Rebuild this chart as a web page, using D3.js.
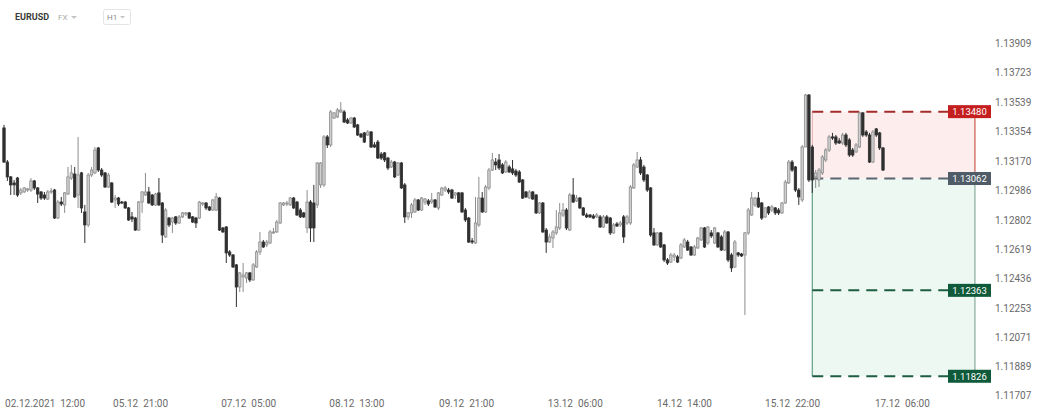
<!DOCTYPE html>
<html><head><meta charset="utf-8">
<script src="https://cdn.jsdelivr.net/npm/d3@7"></script>
<style>
html,body{margin:0;padding:0;background:#fff;}
svg{display:block;font-family:Roboto,"Noto Sans",sans-serif;}
</style></head><body>
<svg id="chart" width="1042" height="417"></svg>
<script>
const symbol = "EURUSD", market = "FX", timeframe = "H1";

const openP = [1.13378,1.13165,1.13072,1.13034,1.13065,1.12972,1.12978,1.12990,1.12990,1.13047,1.13003,1.12978,1.12959,1.12934,1.12978,1.12990,1.12815,1.12915,1.12897,1.12965,1.13065,1.13090,1.12959,1.13097,1.12853,1.12772,1.13084,1.13097,1.13253,1.13115,1.13097,1.13009,1.13034,1.12928,1.12940,1.12915,1.12915,1.12878,1.12822,1.12815,1.12740,1.12915,1.12959,1.12978,1.12959,1.12897,1.12972,1.12909,1.12697,1.12815,1.12790,1.12822,1.12784,1.12822,1.12840,1.12847,1.12822,1.12815,1.12815,1.12903,1.12909,1.12884,1.12865,1.12865,1.12940,1.12753,1.12759,1.12603,1.12584,1.12522,1.12384,1.12447,1.12440,1.12472,1.12428,1.12509,1.12603,1.12665,1.12647,1.12659,1.12722,1.12728,1.12784,1.12897,1.12903,1.12897,1.12940,1.12915,1.12865,1.12847,1.12753,1.12915,1.12909,1.12897,1.13022,1.13022,1.13322,1.13272,1.13440,1.13447,1.13478,1.13478,1.13428,1.13409,1.13440,1.13397,1.13340,1.13347,1.13334,1.13353,1.13272,1.13290,1.13215,1.13222,1.13190,1.13134,1.13165,1.13084,1.13159,1.13022,1.12822,1.12847,1.12853,1.12928,1.12865,1.12915,1.12922,1.12915,1.12928,1.12878,1.12959,1.12990,1.12990,1.12990,1.12959,1.12972,1.12972,1.12865,1.12815,1.12672,1.12659,1.12772,1.12940,1.12853,1.13003,1.13115,1.13165,1.13178,1.13147,1.13103,1.13134,1.13122,1.13109,1.13103,1.13053,1.12978,1.12940,1.12978,1.12959,1.12847,1.12909,1.12740,1.12665,1.12690,1.12722,1.12753,1.12834,1.12865,1.12740,1.12959,1.12922,1.12940,1.12878,1.12834,1.12834,1.12828,1.12822,1.12822,1.12759,1.12822,1.12815,1.12722,1.12778,1.12772,1.12822,1.12784,1.12784,1.13003,1.13134,1.13178,1.13134,1.13084,1.13003,1.12722,1.12647,1.12722,1.12647,1.12553,1.12540,1.12572,1.12572,1.12565,1.12634,1.12665,1.12634,1.12584,1.12628,1.12678,1.12753,1.12659,1.12722,1.12659,1.12722,1.12697,1.12615,1.12728,1.12584,1.12509,1.12597,1.12590,1.12584,1.12722,1.12834,1.12897,1.12940,1.12909,1.12822,1.12884,1.12865,1.12878,1.12865,1.12847,1.12909,1.13034,1.13165,1.13134,1.12990,1.12928,1.13259,1.13584,1.13259,1.13072,1.13053,1.13097,1.13178,1.13240,1.13322,1.13322,1.13297,1.13284,1.13334,1.13303,1.13240,1.13228,1.13259,1.13472,1.13353,1.13334,1.13165,1.13372,1.13347,1.13253];

const highP = [1.13397,1.13178,1.13078,1.13053,1.13072,1.13003,1.13009,1.13003,1.13065,1.13053,1.13009,1.12984,1.12978,1.12990,1.13003,1.12997,1.12928,1.12947,1.12978,1.13134,1.13147,1.13134,1.13322,1.13103,1.12897,1.13097,1.13134,1.13259,1.13259,1.13128,1.13103,1.13097,1.13040,1.12959,1.12947,1.12922,1.12922,1.12884,1.12853,1.12822,1.12922,1.12984,1.13097,1.13009,1.12965,1.12972,1.13065,1.12915,1.12878,1.12822,1.12822,1.12828,1.12834,1.12853,1.12853,1.12853,1.12828,1.12822,1.12922,1.12915,1.12915,1.12890,1.12934,1.12972,1.12947,1.12759,1.12765,1.12615,1.12590,1.12528,1.12478,1.12534,1.12478,1.12478,1.12534,1.12615,1.12728,1.12678,1.12678,1.12740,1.12753,1.12803,1.12915,1.12915,1.12922,1.12947,1.12947,1.12922,1.12878,1.12853,1.12990,1.12928,1.13022,1.13165,1.13165,1.13334,1.13334,1.13490,1.13478,1.13503,1.13540,1.13490,1.13440,1.13447,1.13447,1.13403,1.13347,1.13353,1.13365,1.13359,1.13290,1.13303,1.13228,1.13228,1.13197,1.13178,1.13172,1.13165,1.13165,1.13034,1.12853,1.12909,1.12940,1.12934,1.12947,1.12940,1.12934,1.12972,1.12934,1.12978,1.13009,1.13015,1.13003,1.12997,1.12978,1.12978,1.12978,1.12878,1.12822,1.12690,1.12947,1.13072,1.12978,1.13022,1.13128,1.13222,1.13190,1.13215,1.13159,1.13178,1.13147,1.13178,1.13122,1.13115,1.13059,1.12984,1.12990,1.12984,1.12965,1.12915,1.12915,1.12753,1.12716,1.12740,1.12865,1.12909,1.12909,1.12878,1.12972,1.13065,1.12959,1.12947,1.12884,1.12847,1.12840,1.12840,1.12847,1.12834,1.12834,1.12834,1.12822,1.12784,1.12790,1.12797,1.12834,1.12834,1.13022,1.13159,1.13228,1.13197,1.13147,1.13090,1.13009,1.12753,1.12728,1.12728,1.12653,1.12565,1.12597,1.12597,1.12584,1.12659,1.12690,1.12678,1.12640,1.12647,1.12697,1.12759,1.12759,1.12765,1.12740,1.12759,1.12728,1.12709,1.12740,1.12734,1.12597,1.12678,1.12603,1.12597,1.12728,1.12878,1.12978,1.12947,1.12978,1.12915,1.12884,1.12890,1.12897,1.12884,1.12878,1.12915,1.13053,1.13178,1.13178,1.13140,1.13003,1.13272,1.13590,1.13590,1.13272,1.13115,1.13128,1.13209,1.13253,1.13334,1.13347,1.13334,1.13315,1.13347,1.13347,1.13315,1.13253,1.13284,1.13478,1.13478,1.13365,1.13347,1.13365,1.13378,1.13353,1.13259];

const lowP = [1.13159,1.13047,1.12959,1.12959,1.12947,1.12959,1.12972,1.12978,1.12978,1.12990,1.12909,1.12928,1.12928,1.12928,1.12965,1.12809,1.12809,1.12890,1.12847,1.12959,1.13053,1.12940,1.12878,1.12847,1.12659,1.12759,1.13072,1.13090,1.13103,1.13072,1.13003,1.13003,1.12909,1.12878,1.12890,1.12903,1.12872,1.12797,1.12790,1.12734,1.12734,1.12847,1.12953,1.12903,1.12890,1.12890,1.12890,1.12659,1.12690,1.12759,1.12722,1.12772,1.12778,1.12815,1.12828,1.12809,1.12784,1.12753,1.12809,1.12890,1.12865,1.12859,1.12859,1.12859,1.12734,1.12722,1.12534,1.12572,1.12503,1.12259,1.12353,1.12353,1.12409,1.12415,1.12422,1.12503,1.12584,1.12628,1.12634,1.12653,1.12716,1.12722,1.12778,1.12890,1.12890,1.12890,1.12872,1.12828,1.12815,1.12815,1.12722,1.12665,1.12665,1.12878,1.13003,1.13009,1.13253,1.13259,1.13434,1.13440,1.13472,1.13409,1.13403,1.13403,1.13378,1.13328,1.13315,1.13284,1.13328,1.13253,1.13253,1.13184,1.13178,1.13165,1.13115,1.13128,1.13065,1.13078,1.12997,1.12784,1.12803,1.12815,1.12847,1.12859,1.12859,1.12897,1.12890,1.12903,1.12878,1.12865,1.12953,1.12978,1.12965,1.12934,1.12934,1.12909,1.12847,1.12790,1.12659,1.12653,1.12653,1.12759,1.12847,1.12847,1.12990,1.13109,1.13115,1.13115,1.13090,1.13097,1.13097,1.13084,1.13072,1.13034,1.12934,1.12940,1.12934,1.12928,1.12840,1.12840,1.12722,1.12597,1.12659,1.12628,1.12709,1.12740,1.12822,1.12740,1.12734,1.12909,1.12915,1.12872,1.12828,1.12815,1.12815,1.12809,1.12815,1.12753,1.12753,1.12778,1.12709,1.12716,1.12759,1.12759,1.12659,1.12772,1.12772,1.12997,1.13128,1.13084,1.13040,1.12978,1.12697,1.12640,1.12640,1.12628,1.12540,1.12522,1.12534,1.12547,1.12534,1.12559,1.12628,1.12609,1.12578,1.12578,1.12622,1.12672,1.12628,1.12647,1.12690,1.12653,1.12628,1.12609,1.12609,1.12540,1.12478,1.12503,1.12572,1.12572,1.12209,1.12709,1.12828,1.12884,1.12878,1.12803,1.12815,1.12834,1.12853,1.12834,1.12834,1.12840,1.12903,1.13028,1.13103,1.12978,1.12897,1.12915,1.13259,1.13040,1.12972,1.13003,1.13009,1.13084,1.13165,1.13228,1.13303,1.13272,1.13278,1.13272,1.13259,1.13197,1.13197,1.13222,1.13253,1.13322,1.13322,1.13159,1.13159,1.13322,1.13240,1.13109];

const closeP = [1.13165,1.13072,1.13022,1.13022,1.12959,1.12990,1.13003,1.12997,1.13047,1.13003,1.12965,1.12940,1.12940,1.12978,1.12984,1.12815,1.12915,1.12903,1.12972,1.13072,1.13097,1.12947,1.13084,1.12878,1.12772,1.13084,1.13115,1.13240,1.13115,1.13084,1.13009,1.13084,1.12915,1.12940,1.12903,1.12909,1.12878,1.12803,1.12809,1.12740,1.12915,1.12978,1.12978,1.12909,1.12897,1.12965,1.12897,1.12709,1.12865,1.12772,1.12815,1.12784,1.12822,1.12847,1.12847,1.12815,1.12790,1.12784,1.12915,1.12909,1.12878,1.12865,1.12928,1.12947,1.12740,1.12728,1.12597,1.12584,1.12509,1.12384,1.12472,1.12459,1.12472,1.12428,1.12522,1.12603,1.12665,1.12634,1.12665,1.12728,1.12728,1.12790,1.12909,1.12909,1.12909,1.12940,1.12878,1.12834,1.12822,1.12822,1.12915,1.12753,1.12753,1.13159,1.13159,1.13322,1.13272,1.13478,1.13472,1.13490,1.13490,1.13415,1.13409,1.13440,1.13384,1.13334,1.13322,1.13290,1.13353,1.13259,1.13259,1.13190,1.13190,1.13178,1.13128,1.13165,1.13072,1.13159,1.13003,1.12822,1.12847,1.12897,1.12928,1.12865,1.12940,1.12934,1.12903,1.12928,1.12884,1.12972,1.13003,1.13003,1.12978,1.12940,1.12972,1.12915,1.12853,1.12803,1.12665,1.12665,1.12784,1.12940,1.12853,1.13009,1.13115,1.13178,1.13147,1.13128,1.13097,1.13165,1.13103,1.13097,1.13084,1.13040,1.12940,1.12947,1.12978,1.12934,1.12847,1.12909,1.12728,1.12665,1.12697,1.12728,1.12759,1.12847,1.12865,1.12753,1.12959,1.12915,1.12940,1.12878,1.12834,1.12822,1.12822,1.12815,1.12834,1.12759,1.12822,1.12784,1.12722,1.12772,1.12765,1.12784,1.12697,1.12822,1.13009,1.13147,1.13178,1.13097,1.13053,1.12990,1.12709,1.12647,1.12722,1.12634,1.12553,1.12534,1.12584,1.12584,1.12540,1.12647,1.12678,1.12615,1.12584,1.12634,1.12690,1.12753,1.12634,1.12759,1.12703,1.12753,1.12634,1.12615,1.12728,1.12553,1.12503,1.12665,1.12584,1.12578,1.12722,1.12865,1.12940,1.12940,1.12884,1.12815,1.12878,1.12847,1.12884,1.12847,1.12847,1.12909,1.13040,1.13165,1.13115,1.12990,1.12947,1.13259,1.13584,1.13053,1.13053,1.13097,1.13115,1.13197,1.13240,1.13322,1.13315,1.13284,1.13284,1.13334,1.13272,1.13209,1.13209,1.13272,1.13472,1.13334,1.13334,1.13165,1.13353,1.13334,1.13253,1.13115];

const yTickValues = [1.13909,1.13723,1.13539,1.13354,1.13170,1.12986,1.12802,1.12619,1.12436,1.12253,1.12071,1.11889,1.11707];
const xTickIndex = [8.1,40.4,72.5,104.6,137.2,169.5,201.9,234.0,266.6];
const xTickLabels = ["02.12.2021  12:00","05.12  21:00","07.12  05:00","08.12  13:00","09.12  21:00","13.12  06:00","14.12  14:00","15.12  22:00","17.12  06:00"];

const positionStart = 240, positionEnd = 288.3;
const stopLoss = 1.13480, entryPrice = 1.13062, target1 = 1.12363, target2 = 1.11826;

const svg = d3.select("#chart");
const n = openP.length;
const x = d3.scaleLinear().domain([0, n - 1]).range([4, 883]);
const y = d3.scaleLinear().domain([1.11707, 1.13909]).range([395.3, 43]);

// header
const hdr = svg.append("g");
hdr.append("text").attr("x", 15).attr("y", 20).attr("font-size", 9).attr("font-weight", 700).attr("fill", "#3a3a3a").text(symbol);
hdr.append("text").attr("x", 58).attr("y", 20).attr("font-size", 8).attr("fill", "#aaa").text(market);
hdr.append("path").attr("d", "M71,16 L77,16 L74,19 Z").attr("fill", "#c4c4c4");
hdr.append("rect").attr("x", 103.5).attr("y", 9.5).attr("width", 27).attr("height", 15).attr("rx", 2).attr("fill", "#fff").attr("stroke", "#e4e4e4");
hdr.append("text").attr("x", 107).attr("y", 20).attr("font-size", 8).attr("fill", "#888").text(timeframe);
hdr.append("path").attr("d", "M120,16 L125,16 L122.5,18.5 Z").attr("fill", "#c4c4c4");

// position tool zones
const x0 = x(positionStart), x1 = x(positionEnd);
const pos = svg.append("g");
pos.append("rect").attr("x", x0).attr("y", y(stopLoss)).attr("width", x1 - x0).attr("height", y(entryPrice) - y(stopLoss)).attr("fill", "#fdeded");
pos.append("rect").attr("x", x0).attr("y", y(entryPrice)).attr("width", x1 - x0).attr("height", y(target2) - y(entryPrice)).attr("fill", "#eef8f3");
pos.append("line").attr("x1", x1).attr("x2", x1).attr("y1", y(stopLoss)).attr("y2", y(entryPrice)).attr("stroke", "#c0392b").attr("stroke-width", 1);
pos.append("line").attr("x1", x1).attr("x2", x1).attr("y1", y(entryPrice)).attr("y2", y(target2)).attr("stroke", "#6f9a8a").attr("stroke-width", 1);
pos.append("line").attr("x1", x0).attr("x2", x0).attr("y1", y(entryPrice)).attr("y2", y(target2)).attr("stroke", "#5c9e84").attr("stroke-width", 1.2);
pos.append("line").attr("x1", x0).attr("x2", x0).attr("y1", y(stopLoss)).attr("y2", y(entryPrice)).attr("stroke", "#e6a7a7").attr("stroke-width", 1);

const levels = [
  {p: stopLoss, c: "#a52a2a", tag: "#c41e1e"},
  {p: entryPrice, c: "#5d6670", tag: "#4f5c67"},
  {p: target1, c: "#1d5e42", tag: "#0f5a3a"},
  {p: target2, c: "#1d5e42", tag: "#0f5a3a"}
];
pos.selectAll("line.lvl").data(levels).join("line").attr("class", "lvl")
  .attr("x1", x0).attr("x2", 950).attr("y1", d => y(d.p)).attr("y2", d => y(d.p))
  .attr("stroke", d => d.c).attr("stroke-width", 2).attr("stroke-dasharray", "11,7");

// candles
const idx = d3.range(n);
const up = i => closeP[i] <= openP[i] ? false : true;
const cg = svg.append("g");
cg.selectAll("line.wick").data(idx).join("line").attr("class", "wick")
  .attr("x1", i => x(i)).attr("x2", i => x(i))
  .attr("y1", i => y(highP[i])).attr("y2", i => y(lowP[i]))
  .attr("stroke", i => up(i) ? "#8d8d8d" : "#2f2f2f").attr("stroke-width", 1);
cg.selectAll("rect.body").data(idx).join("rect").attr("class", "body")
  .attr("x", i => x(i) - 1.2).attr("width", 2.4)
  .attr("y", i => y(Math.max(openP[i], closeP[i])))
  .attr("height", i => Math.max(1, Math.abs(y(openP[i]) - y(closeP[i]))))
  .attr("fill", i => up(i) ? "#cfcfcf" : "#2f2f2f")
  .attr("stroke", i => up(i) ? "#8d8d8d" : "#2f2f2f").attr("stroke-width", 0.8);

// price tags
const tags = svg.append("g").selectAll("g").data(levels).join("g")
  .attr("transform", d => `translate(948,${y(d.p)})`);
tags.append("rect").attr("x", 0).attr("y", -6.5).attr("width", 43).attr("height", 13).attr("fill", d => d.tag);
tags.append("text").attr("x", 21.5).attr("y", 0).attr("dy", "0.35em").attr("text-anchor", "middle")
  .attr("font-size", 9.5).attr("fill", "#fff").text(d => d.p.toFixed(5));

// y axis
const yAxis = svg.append("g").attr("transform", "translate(992,0)")
  .call(d3.axisRight(y).tickValues(yTickValues).tickSize(0).tickPadding(3).tickFormat(d => d.toFixed(5)));
yAxis.select(".domain").remove();
yAxis.selectAll("text").attr("font-size", 10).attr("fill", "#6a6a6a").attr("font-family", "Roboto, sans-serif");

// x axis
const xAxis = svg.append("g").attr("transform", "translate(0,396)")
  .call(d3.axisBottom(x).tickValues(xTickIndex).tickSize(0).tickPadding(4).tickFormat((d, i) => xTickLabels[i]));
xAxis.select(".domain").remove();
xAxis.selectAll("text").attr("font-size", 10).attr("fill", "#6a6a6a").attr("font-family", "Roboto, sans-serif")
  .style("white-space", "pre");
xAxis.selectAll("text").each(function() {
  const t = d3.select(this);
  const w = this.getComputedTextLength();
  const tr = d3.select(this.parentNode).attr("transform");
  const cx = +tr.match(/translate\(([-\d.]+)/)[1];
  if (cx - w / 2 < 5) t.attr("text-anchor", "start").attr("x", 5 - cx);
});
</script>
</body></html>
